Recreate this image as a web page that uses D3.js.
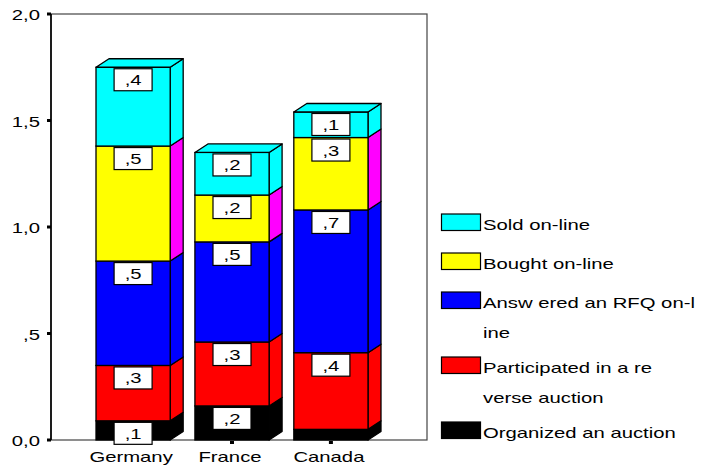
<!DOCTYPE html>
<html>
<head>
<meta charset="utf-8">
<script src="https://cdn.jsdelivr.net/npm/d3@7"></script>
<style>
  html, body { margin: 0; padding: 0; background: #fff; }
  svg { display: block; }
  text { font-family: "Liberation Sans", Arial, sans-serif; fill: #000; }
</style>
</head>
<body>
<svg id="chart" width="702" height="465"></svg>
<script>
// Countries along the x axis
const categories = ["Germany", "France", "Canada"];

// Stack order, bottom to top
const seriesNames = ["Organized an auction", "Participated in a reverse auction",
                     "Answered an RFQ on-line", "Bought on-line", "Sold on-line"];
const organized    = [0.09, 0.16, 0.05];
const participated = [0.26, 0.30, 0.36];
const answered     = [0.49, 0.47, 0.67];
const bought       = [0.54, 0.22, 0.34];
const sold         = [0.37, 0.20, 0.12];
const seriesValues = [organized, participated, answered, bought, sold];

// Legend entries, top to bottom, with their wrapped lines
const legendLines = [
  ["Sold on-line"],
  ["Bought on-line"],
  ["Answ ered an RFQ on-l", "ine"],
  ["Participated in a re", "verse auction"],
  ["Organized an auction"]
];
const legendSeries = [4, 3, 2, 1, 0];

const yTicks = [0, 0.5, 1.0, 1.5, 2.0];
const yTickLabels = ["0,0", ",5", "1,0", "1,5", "2,0"];

const frontColors = ["#000000", "#ff0000", "#0000ff", "#ffff00", "#00ffff"];
const sideColors  = ["#000000", "#ff0000", "#0000ff", "#ff00ff", "#00ffff"];

const svg = d3.select("#chart");
const SX = 1.45;          // horizontal stretch of all lettering
const FS = 14;            // font size
const depthX = 13, depthY = 8.5;

const frame = {left: 51, right: 427, top: 14, bottom: 440};

const y = d3.scaleLinear().domain([0, 2]).range([frame.bottom, frame.top]);
const x = d3.scaleBand().domain(categories)
  .range([frame.left, 413]).paddingInner(0.25).paddingOuter(0.455);

// stacked data
const table = categories.map((c, i) => {
  const row = {category: c};
  seriesNames.forEach((s, k) => row[s] = seriesValues[k][i]);
  return row;
});
const stacked = d3.stack().keys(seriesNames)(table);

// frame
svg.append("rect")
  .attr("x", frame.left).attr("y", frame.top)
  .attr("width", frame.right - frame.left).attr("height", frame.bottom - frame.top)
  .attr("fill", "none").attr("stroke", "#444").attr("stroke-width", 1.2);
svg.append("line")
  .attr("x1", frame.left).attr("x2", frame.left)
  .attr("y1", frame.top).attr("y2", frame.bottom)
  .attr("stroke", "#000").attr("stroke-width", 1.6);

// y ticks
const yAxis = svg.append("g");
yTicks.forEach((t, i) => {
  yAxis.append("rect")
    .attr("x", frame.left - 4).attr("y", y(t) - 1.5)
    .attr("width", 4).attr("height", 3).attr("fill", "#000");
  yAxis.append("text")
    .attr("transform", `translate(40,${y(t) + 6}) scale(${SX},1)`)
    .attr("text-anchor", "end").attr("font-size", FS)
    .text(yTickLabels[i]);
});

// x ticks and labels
categories.forEach(c => {
  const cx = x(c) + x.bandwidth() / 2;
  svg.append("rect").attr("x", cx - 2).attr("y", frame.bottom + 1)
    .attr("width", 4).attr("height", 3).attr("fill", "#000");
  svg.append("text")
    .attr("transform", `translate(${cx - 2},${frame.bottom + 21.5}) scale(${SX},1)`)
    .attr("text-anchor", "middle").attr("font-size", FS)
    .text(c);
});

// bars
const bars = svg.append("g");
const fmt = v => "," + d3.format(".1f")(v).split(".")[1];
categories.forEach((c, i) => {
  const x0 = x(c), x1 = x(c) + x.bandwidth();
  const g = bars.append("g");
  stacked.forEach((layer, k) => {
    const [v0, v1] = layer[i];
    const yb = y(v0), yt = y(v1);
    // side face
    g.append("path")
      .attr("d", `M${x1},${yt}L${x1 + depthX},${yt - depthY}L${x1 + depthX},${yb - depthY}L${x1},${yb}Z`)
      .attr("fill", sideColors[k]).attr("stroke", "#000").attr("stroke-width", 1.3)
      .attr("stroke-linejoin", "round");
    // front face
    g.append("rect")
      .attr("x", x0).attr("y", yt).attr("width", x1 - x0).attr("height", yb - yt)
      .attr("fill", frontColors[k]).attr("stroke", "#000").attr("stroke-width", 1.3);
  });
  // top face
  const top = stacked[stacked.length - 1][i][1];
  const yt = y(top);
  g.append("path")
    .attr("d", `M${x0},${yt}L${x0 + depthX},${yt - depthY}L${x1 + depthX},${yt - depthY}L${x1},${yt}Z`)
    .attr("fill", frontColors[frontColors.length - 1]).attr("stroke", "#000").attr("stroke-width", 1.3)
    .attr("stroke-linejoin", "round");
  // value labels
  stacked.forEach((layer, k) => {
    const [v0, v1] = layer[i];
    const v = v1 - v0;
    if (v < 0.08) return;
    const cx = (x0 + x1) / 2;
    const by = y(v1) + 1.5;
    g.append("rect")
      .attr("x", cx - 19).attr("y", by).attr("width", 38).attr("height", 22)
      .attr("fill", "#fff").attr("stroke", "#000").attr("stroke-width", 1.2);
    g.append("text")
      .attr("transform", `translate(${cx},${by + 16.5}) scale(${SX},1)`)
      .attr("text-anchor", "middle").attr("font-size", FS)
      .text(fmt(v));
  });
});

// legend
const legend = svg.append("g");
let ly = 214;
legendLines.forEach((lines, j) => {
  const k = legendSeries[j];
  legend.append("rect")
    .attr("x", 441.5).attr("y", ly).attr("width", 39).attr("height", 16.5)
    .attr("fill", frontColors[k]).attr("stroke", "#000").attr("stroke-width", 1.2);
  lines.forEach((t, li) => {
    legend.append("text")
      .attr("transform", `translate(483,${ly + 15.5 + li * 30.5}) scale(${SX},1)`)
      .attr("font-size", FS)
      .text(t);
  });
  ly += 13 + 26 * lines.length;
});
</script>
</body>
</html>
